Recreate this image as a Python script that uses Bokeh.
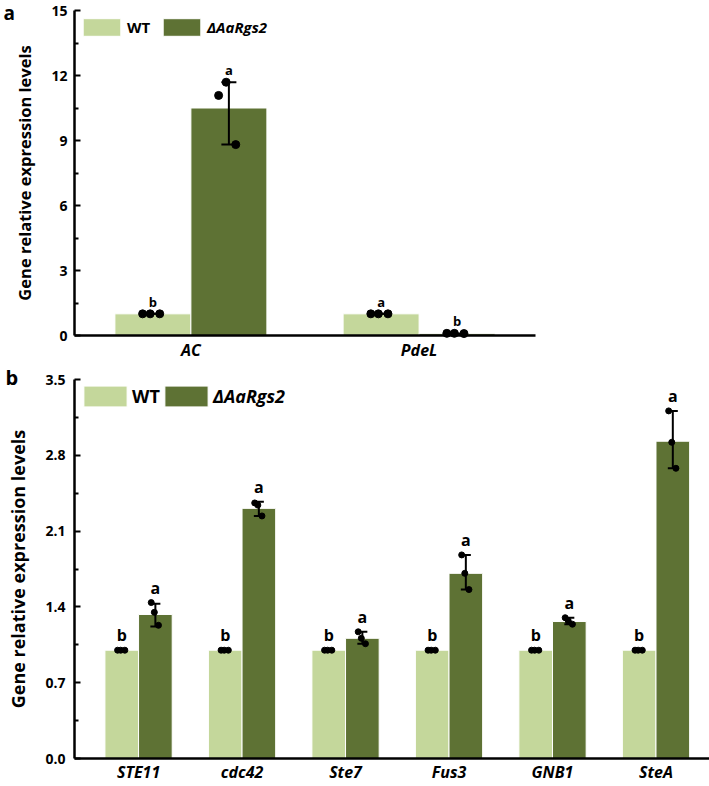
import numpy as np
from bokeh.plotting import figure
from bokeh.layouts import column
from bokeh.models import (ColumnDataSource, Whisker, TeeHead, Range1d, FixedTicker,
                          PrintfTickFormatter, Legend, LegendItem, Title)
from bokeh.core.properties import value
from bokeh.embed import file_html
from bokeh.resources import INLINE

# ---------------- data: panel a ----------------
genes_a = ["AC", "PdeL"]
wt_a = [1.0, 1.0]
wt_a_lo = [1.0, 1.0]
wt_a_hi = [1.0, 1.0]
wt_a_reps = [[1.0, 1.0, 1.0], [1.0, 1.0, 1.0]]
mut_a = [10.5, 0.08]
mut_a_lo = [8.81, 0.08]
mut_a_hi = [11.69, 0.08]
mut_a_reps = [[11.08, 11.69, 8.81], [0.1, 0.1, 0.09]]
letters_wt_a = ["b", "a"]
letters_mut_a = ["a", "b"]
yticks_a = [0, 3, 6, 9, 12, 15]
yminor_a = [1.5, 4.5, 7.5, 10.5, 13.5]

# ---------------- data: panel b ----------------
genes_b = ["STE11", "cdc42", "Ste7", "Fus3", "GNB1", "SteA"]
wt_b = [1.0, 1.0, 1.0, 1.0, 1.0, 1.0]
wt_b_lo = [1.0, 1.0, 1.0, 1.0, 1.0, 1.0]
wt_b_hi = [1.0, 1.0, 1.0, 1.0, 1.0, 1.0]
wt_b_reps = [[1.0, 1.0, 1.0]] * 6
mut_b = [1.33, 2.31, 1.11, 1.71, 1.265, 2.93]
mut_b_lo = [1.22, 2.24, 1.06, 1.56, 1.24, 2.68]
mut_b_hi = [1.43, 2.37, 1.17, 1.88, 1.30, 3.21]
mut_b_reps = [[1.44, 1.35, 1.23], [2.36, 2.34, 2.24], [1.17, 1.11, 1.06],
              [1.88, 1.71, 1.56], [1.30, 1.27, 1.24], [3.21, 2.92, 2.68]]
letters_wt_b = ["b", "b", "b", "b", "b", "b"]
letters_mut_b = ["a", "a", "a", "a", "a", "a"]
yticks_b = [0.0, 0.7, 1.4, 2.1, 2.8, 3.5]
yminor_b = [0.35, 1.05, 1.75, 2.45, 3.15]

series_names = ["WT", "\u0394AaRgs2"]
panel_names = ["a", "b"]

# ---------------- styles ----------------
LIGHT = "#c4d79b"
DARK = "#5e7234"
FONT = "Open Sans"


def make_panel(genes, wt, wt_lo, wt_hi, wt_reps, mut, mut_lo, mut_hi, mut_reps,
               let_wt, let_mut, yticks, yminor, ymax, fmt, panel, cfg):
    n = len(genes)
    pos = np.arange(1, n + 1, dtype=float)
    w = cfg["bw"]
    p = figure(frame_width=cfg["fw"], frame_height=cfg["fh"],
               x_range=Range1d(cfg["x0"], cfg["x1"]), y_range=Range1d(0, ymax),
               output_backend="svg", toolbar_location=None, title=None,
               min_border_left=cfg["bl"], min_border_right=cfg["br"],
               min_border_top=cfg["bt"], min_border_bottom=cfg["bb"])
    p.outline_line_color = None
    p.xgrid.visible = False
    p.ygrid.visible = False

    x_wt = pos - w / 2
    x_mut = pos + w / 2
    r_wt = p.vbar(x=x_wt, top=wt, width=w, fill_color=LIGHT, line_color="white", line_width=1)
    r_mut = p.vbar(x=x_mut, top=mut, width=w, fill_color=DARK, line_color="white", line_width=1)

    for xs, lo, hi in ((x_wt, wt_lo, wt_hi), (x_mut, mut_lo, mut_hi)):
        src = ColumnDataSource(dict(x=xs, lo=lo, hi=hi))
        wk = Whisker(base="x", lower="lo", upper="hi", source=src, level="overlay",
                     line_width=2, line_color="black",
                     upper_head=TeeHead(size=cfg["cap"], line_width=2, line_color="black"),
                     lower_head=TeeHead(size=cfg["cap"], line_width=2, line_color="black"))
        p.add_layout(wk)

    jit = cfg["jit"]
    for xs, reps in ((x_wt, wt_reps), (x_mut, mut_reps)):
        dx, dy = [], []
        for xc, rr in zip(xs, reps):
            for j, v in enumerate(rr):
                dx.append(xc + jit[j])
                dy.append(v)
        p.scatter(x=dx, y=dy, size=cfg["dot"], color="black", level="overlay")

    for xs, lets, hi, reps in ((x_wt, let_wt, wt_hi, wt_reps), (x_mut, let_mut, mut_hi, mut_reps)):
        ty = [max(h, max(r)) for h, r in zip(hi, reps)]
        p.text(x=xs, y=ty, text=lets, text_align="center", text_baseline="bottom",
               y_offset=-cfg["loff"], text_font=value(FONT), text_font_style="bold",
               text_font_size=cfg["lsize"], text_color="black", level="overlay")

    # axes
    xa = p.xaxis[0]
    xa.ticker = FixedTicker(ticks=list(pos))
    xa.major_label_overrides = {float(k): g for k, g in zip(pos, genes)}
    xa.major_label_overrides.update({int(k): g for k, g in zip(pos, genes)})
    xa.major_tick_line_color = None
    xa.minor_tick_line_color = None
    xa.major_tick_out = 0
    xa.major_tick_in = 0
    xa.axis_line_width = 2.5
    xa.axis_line_color = "black"
    xa.major_label_text_font = FONT
    xa.major_label_text_font_style = "bold italic"
    xa.major_label_text_font_size = cfg["xsize"]
    xa.major_label_text_color = "black"
    xa.major_label_standoff = cfg["xstand"]

    ya = p.yaxis[0]
    ya.ticker = FixedTicker(ticks=yticks, minor_ticks=yminor)
    ya.formatter = PrintfTickFormatter(format=fmt)
    ya.axis_line_width = 2.5
    ya.axis_line_color = "black"
    ya.major_tick_in = 6
    ya.major_tick_out = 0
    ya.minor_tick_in = 4
    ya.minor_tick_out = 0
    ya.major_tick_line_width = 2
    ya.minor_tick_line_width = 2
    ya.major_label_text_font = FONT
    ya.major_label_text_font_style = "bold"
    ya.major_label_text_font_size = cfg["ysize"]
    ya.major_label_text_color = "black"
    ya.major_label_standoff = cfg["ystand"]
    ya.axis_label = "Gene relative expression levels"
    ya.axis_label_text_font = FONT
    ya.axis_label_text_font_style = "bold"
    ya.axis_label_text_font_size = cfg["labsize"]
    ya.axis_label_text_color = "black"
    ya.axis_label_standoff = cfg["labstand"]

    # legends (two, for different label styles)
    for rend, name, style, loc in ((r_wt, series_names[0], "bold", cfg["leg1"]),
                                   (r_mut, series_names[1], "bold italic", cfg["leg2"])):
        lg = Legend(items=[LegendItem(label=name, renderers=[rend])], location=loc,
                    orientation="horizontal", glyph_width=cfg["gw"], glyph_height=cfg["gh"],
                    label_height=cfg["gh"], label_standoff=cfg["lstand"], padding=0, margin=0,
                    spacing=0, border_line_color=None, background_fill_alpha=0,
                    label_text_font=FONT, label_text_font_style=style,
                    label_text_font_size=cfg["legsize"], label_text_color="black")
        p.add_layout(lg)

    # panel letter as a title pulled down beside the frame's top-left corner
    t = Title(text=panel, align="left", offset=cfg["px"], standoff=cfg["pstand"],
              text_font=FONT, text_font_style="bold", text_font_size=cfg["psize"],
              text_color="black")
    p.add_layout(t, "above")
    return p


cfg_a = dict(bw=0.333, fw=461, fh=325, x0=0.49, x1=2.51, bl=72, br=176, bt=10, bb=29,
             cap=15, jit=[-0.045, -0.012, 0.03], dot=8, loff=3, lsize="13px",
             xsize="16px", xstand=3, ysize="14px", ystand=7, labsize="16.5px", labstand=12,
             leg1=(4, 297), leg2=(84, 297), gw=47, gh=22, lstand=2, legsize="15px",
             px=-71, pstand=-30, psize="19px")
cfg_b = dict(bw=0.325, fw=635, fh=379, x0=0.381, x1=6.517, bl=74, br=0, bt=15, bb=26,
             cap=10, jit=[-0.04, -0.01, 0.03], dot=6, loff=4, lsize="16px",
             xsize="16px", xstand=2, ysize="14px", ystand=9, labsize="18px", labstand=12,
             leg1=(4, 349), leg2=(85, 349), gw=54, gh=26, lstand=0, legsize="18px",
             px=-69, pstand=-22, psize="20px")

pa = make_panel(genes_a, wt_a, wt_a_lo, wt_a_hi, wt_a_reps, mut_a, mut_a_lo, mut_a_hi,
                mut_a_reps, letters_wt_a, letters_mut_a, yticks_a, yminor_a, 15, "%d",
                panel_names[0], cfg_a)
pb = make_panel(genes_b, wt_b, wt_b_lo, wt_b_hi, wt_b_reps, mut_b, mut_b_lo, mut_b_hi,
                mut_b_reps, letters_wt_b, letters_mut_b, yticks_b, yminor_b, 3.5, "%.1f",
                panel_names[1], cfg_b)

layout = column(pa, pb, spacing=0)
open("out.html", "w").write(file_html(layout, INLINE))
